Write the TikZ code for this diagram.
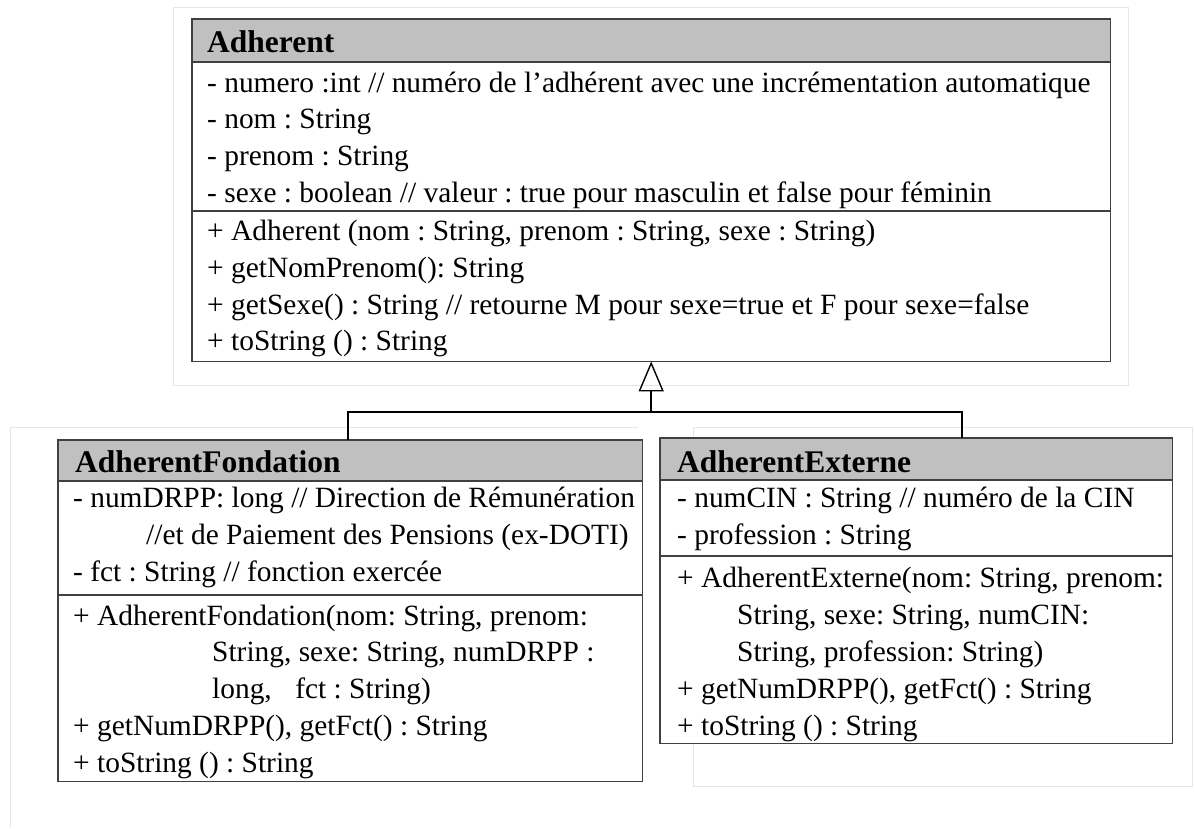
\documentclass[tikz,border=0pt]{standalone}
\usepackage{fontspec}
\setmainfont{Liberation Serif}
\usetikzlibrary{arrows.meta,calc}
\definecolor{boxgray}{HTML}{404040}
\definecolor{headfill}{HTML}{C0C0C0}
\definecolor{framegray}{HTML}{E6E6E6}
\frenchspacing
\begin{document}
\begin{tikzpicture}[x=1pt,y=-1pt,
  classbox/.style={rectangle, anchor=north west, inner sep=0pt, fill=white},
  boxline/.style={draw=boxgray, line width=1.4pt},
  sepline/.style={draw=boxgray, line width=1.2pt},
  frame/.style={draw=framegray, line width=0.8pt},
  conn/.style={draw=black, line width=1.6pt},
  txt/.style={anchor=base west, inner sep=0pt, font=\fontsize{29.4}{37}\selectfont},
  head/.style={anchor=base west, inner sep=0pt, font=\fontsize{31.5}{37}\selectfont\bfseries}]
\useasboundingbox (0,0) rectangle (1194,828);
\fill[white] (0,0) rectangle (1194,828);

% light frames around each class
\draw[frame] (173,7) rectangle (1128,385);
\draw[frame] (10,427) -- (638,427);
\draw[frame] (10,427) -- (10,828);
\draw[frame] (693,427) rectangle (1192,786);

% ---------- Adherent ----------
\node[classbox, minimum width=918pt, minimum height=342pt] (adh) at (192,19) {};
\fill[headfill] (adh.north west) rectangle ($(adh.north east)+(0,43)$);
\draw[sepline] ($(adh.north west)+(0,43)$) -- ($(adh.north east)+(0,43)$);
\draw[sepline] ($(adh.north west)+(0,192)$) -- ($(adh.north east)+(0,192)$);
\draw[boxline] (adh.north west) rectangle (adh.south east);

\node[head] (adhT) at (207,52) {Adherent};
\node[txt] (adhA1) at (207,92) {- numero :int // numéro de l’adhérent avec une incrémentation automatique};
\node[txt] (adhA2) at (207,128) {- nom : String};
\node[txt] (adhA3) at (207,165) {- prenom : String};
\node[txt] (adhA4) at (207,202) {- sexe : boolean // valeur : true pour masculin et false pour féminin};
\node[txt] (adhM1) at (207,240) {+ Adherent (nom : String, prenom : String, sexe : String)};
\node[txt] (adhM2) at (207,277) {+ getNomPrenom(): String};
\node[txt] (adhM3) at (207,314) {+ getSexe() : String // retourne M pour sexe=true et F pour sexe=false};
\node[txt] (adhM4) at (207,350) {+ toString () : String};

% ---------- AdherentFondation ----------
\node[classbox, minimum width=584pt, minimum height=341pt] (fond) at (58,440) {};
\fill[headfill] (fond.north west) rectangle ($(fond.north east)+(0,41)$);
\draw[sepline] ($(fond.north west)+(0,41)$) -- ($(fond.north east)+(0,41)$);
\draw[sepline] ($(fond.north west)+(0,155)$) -- ($(fond.north east)+(0,155)$);
\draw[boxline] (fond.north west) rectangle (fond.south east);

\node[head] (fondT) at (75,472) {AdherentFondation};
\node[txt] (fondA1) at (73,507) {- numDRPP: long // Direction de Rémunération};
\node[txt] (fondA2) at (146,544) {//et de Paiement des Pensions (ex-DOTI)};
\node[txt] (fondA3) at (73,581) {- fct : String // fonction exercée};
\node[txt] (fondM1) at (73,625) {+ AdherentFondation(nom: String, prenom:};
\node[txt] (fondM2) at (212,661) {String, sexe: String, numDRPP :};
\node[txt] (fondM3) at (212,698) {long,\hspace{0.8em}fct : String)};
\node[txt] (fondM4) at (73,735) {+ getNumDRPP(), getFct() : String};
\node[txt] (fondM5) at (73,772) {+ toString () : String};

% ---------- AdherentExterne ----------
\node[classbox, minimum width=512pt, minimum height=305pt] (ext) at (660,438) {};
\fill[headfill] (ext.north west) rectangle ($(ext.north east)+(0,42)$);
\draw[sepline] ($(ext.north west)+(0,42)$) -- ($(ext.north east)+(0,42)$);
\draw[sepline] ($(ext.north west)+(0,118)$) -- ($(ext.north east)+(0,118)$);
\draw[boxline] (ext.north west) rectangle (ext.south east);

\node[head] (extT) at (677,472) {AdherentExterne};
\node[txt] (extA1) at (677,507) {- numCIN : String // numéro de la CIN};
\node[txt] (extA2) at (677,544) {- profession : String};
\node[txt] (extM1) at (677,587) {+ AdherentExterne(nom: String, prenom:};
\node[txt] (extM2) at (737,624) {String, sexe: String, numCIN:};
\node[txt] (extM3) at (737,661) {String, profession: String)};
\node[txt] (extM4) at (677,698) {+ getNumDRPP(), getFct() : String};
\node[txt] (extM5) at (677,735) {+ toString () : String};

% ---------- generalisation ----------
\coordinate (jm) at (adh.south |- 0,412);
\coordinate (jl) at (348,412);
\coordinate (jr) at (962,412);
\draw[conn] (jl |- fond.north) -- (jl) -- (jr) -- (jr |- ext.north);
\draw[conn, -{Triangle[open, length=30pt, width=25pt, line width=1.4pt]}] (jm) -- (adh.south);
\end{tikzpicture}
\end{document}
